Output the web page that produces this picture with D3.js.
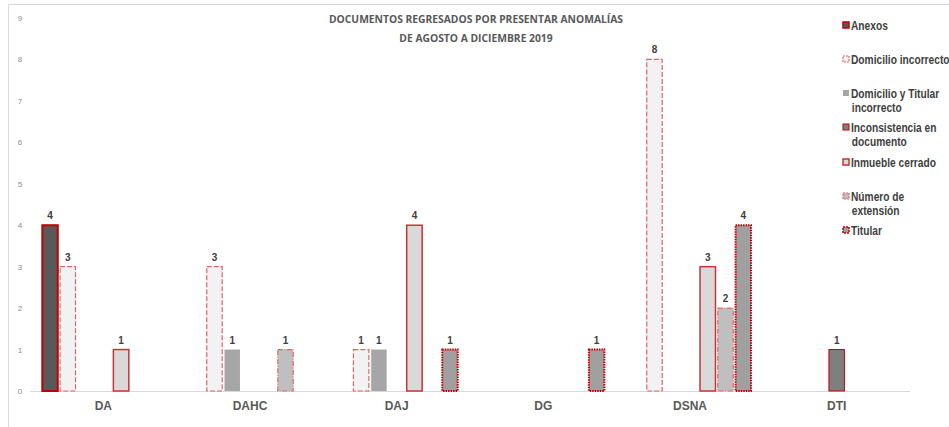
<!DOCTYPE html>
<html>
<head>
<meta charset="utf-8">
<script src="https://cdn.jsdelivr.net/npm/d3@7"></script>
<style>
  body { margin: 0; background: #fff; }
  svg { display: block; font-family: "Liberation Sans", Arial, sans-serif; }
</style>
</head>
<body>
<svg id="chart" width="949" height="427"></svg>
<script>
// categories and series
let categories = ["DA", "DAHC", "DAJ", "DG", "DSNA", "DTI"];
let seriesNames = ["Anexos", "Domicilio incorrecto", "Domicilio y Titular incorrecto",
  "Inconsistencia en documento", "Inmueble cerrado", "Número de extensión", "Titular"];
// values per series, one per category (null = no bar)
let anexos        = [4, null, null, null, null, null];
let domIncorrecto = [3, 3, 1, null, 8, null];
let domTitular    = [null, 1, 1, null, null, null];
let inconsistencia= [null, null, null, null, null, 1];
let inmueble      = [1, null, 4, null, 3, null];
let numExtension  = [null, 1, null, null, 2, null];
let titular       = [null, null, 1, 1, 4, null];
let yTicks = [0, 1, 2, 3, 4, 5, 6, 7, 8, 9];
let titleLines = ["DOCUMENTOS REGRESADOS POR PRESENTAR ANOMALÍAS", "DE AGOSTO A DICIEMBRE 2019"];

let allValues = [anexos, domIncorrecto, domTitular, inconsistencia, inmueble, numExtension, titular];

// look of each series
let styles = [
  {fill: "#595959", stroke: "#c00000", width: 2, dash: null},
  {fill: "#f2f2f2", stroke: "#e06666", width: 1.2, dash: "5,2"},
  {fill: "#a6a6a6", stroke: "none", width: 0, dash: null},
  {fill: "#7f7f7f", stroke: "#c00000", width: 1, dash: null},
  {fill: "#d9d9d9", stroke: "#cc3333", width: 1.5, dash: null},
  {fill: "#bfbfbf", stroke: "#e06666", width: 1.2, dash: "5,1.5,1,1.5"},
  {fill: "#a0a0a0", stroke: "#c00000", width: 2, dash: "1.5,1"}
];

let svg = d3.select("#chart");

// outer chart border
svg.append("path")
  .attr("d", "M8.5,440 V4.5 H960")
  .attr("fill", "none").attr("stroke", "#d9d9d9");

let margin = {top: 18, left: 30};
let plotWidth = 880, plotHeight = 373;

let plot = svg.append("g").attr("transform", "translate(" + margin.left + "," + margin.top + ")");

let yScale = d3.scaleLinear().domain([0, 9]).range([plotHeight, 0]);
let xScale = d3.scaleBand().domain(categories).range([0, plotWidth]).paddingInner(0.168).paddingOuter(0.084);
let xSub = d3.scaleBand().domain(seriesNames).range([0, xScale.bandwidth()]).paddingInner(0.13);

// y tick labels
plot.selectAll("text.ytick").data(yTicks).enter().append("text")
  .attr("class", "ytick")
  .attr("x", -10).attr("y", d => yScale(d) + 3)
  .attr("text-anchor", "middle")
  .style("font-size", "8px").style("fill", "#8c8c8c")
  .text(d => d);

// baseline
plot.append("line")
  .attr("x1", 0).attr("x2", plotWidth)
  .attr("y1", yScale(0) + 0.5).attr("y2", yScale(0) + 0.5)
  .attr("stroke", "#d9d9d9").attr("stroke-width", 1);

// bars
seriesNames.forEach(function(name, s) {
  let st = styles[s];
  let rows = categories.map((c, i) => ({cat: c, v: allValues[s][i]})).filter(r => r.v != null);
  let g = plot.append("g");
  g.selectAll("rect").data(rows).enter().append("rect")
    .attr("x", d => xScale(d.cat) + xSub(name))
    .attr("y", d => yScale(d.v))
    .attr("width", xSub.bandwidth())
    .attr("height", d => yScale(0) - yScale(d.v))
    .attr("fill", st.fill)
    .attr("stroke", st.stroke)
    .attr("stroke-width", st.width)
    .attr("stroke-dasharray", st.dash);
  g.selectAll("text").data(rows).enter().append("text")
    .attr("x", d => xScale(d.cat) + xSub(name) + xSub.bandwidth() / 2)
    .attr("y", d => yScale(d.v) - 6)
    .attr("text-anchor", "middle")
    .style("font-size", "10px").style("font-weight", "bold").style("fill", "#404040")
    .text(d => d.v);
});

// category labels
plot.selectAll("text.cat").data(categories).enter().append("text")
  .attr("class", "cat")
  .attr("x", d => xScale(d) + xScale.bandwidth() / 2)
  .attr("y", yScale(0) + 19)
  .attr("text-anchor", "middle")
  .style("font-size", "12px").style("font-weight", "bold").style("fill", "#595959")
  .text(d => d);

// title
svg.selectAll("text.title").data(titleLines).enter().append("text")
  .attr("class", "title")
  .attr("x", 476).attr("y", (d, i) => 23 + i * 19)
  .attr("text-anchor", "middle")
  .style("font-family", "'Open Sans', sans-serif")
  .style("font-size", "10.3px").style("font-weight", "bold").style("fill", "#595959")
  .text(d => d);

// legend (text squeezed horizontally, like a narrow font)
let legendLines = [["Anexos"], ["Domicilio incorrecto"], ["Domicilio y Titular", "incorrecto"],
  ["Inconsistencia en", "documento"], ["Inmueble cerrado"], ["Número de", "extensión"], ["Titular"]];
let legendY = [26, 60, 94, 128, 163, 197, 231];
let legend = svg.append("g");
seriesNames.forEach(function(name, s) {
  let st = styles[s];
  legend.append("rect")
    .attr("x", 843).attr("y", legendY[s] - 4)
    .attr("width", 6).attr("height", 6)
    .attr("fill", st.fill).attr("stroke", st.stroke)
    .attr("stroke-width", Math.min(st.width, 1.5))
    .attr("stroke-dasharray", st.dash ? "2,1" : null);
  let t = legend.append("text")
    .attr("transform", "translate(851," + (legendY[s] + 4) + ") scale(0.85,1)")
    .style("font-size", "12px").style("font-weight", "bold").style("fill", "#404040");
  legendLines[s].forEach(function(line, k) {
    t.append("tspan").attr("x", k === 0 ? 0 : 1).attr("dy", k === 0 ? 0 : 14).text(line);
  });
});
</script>
</body>
</html>
